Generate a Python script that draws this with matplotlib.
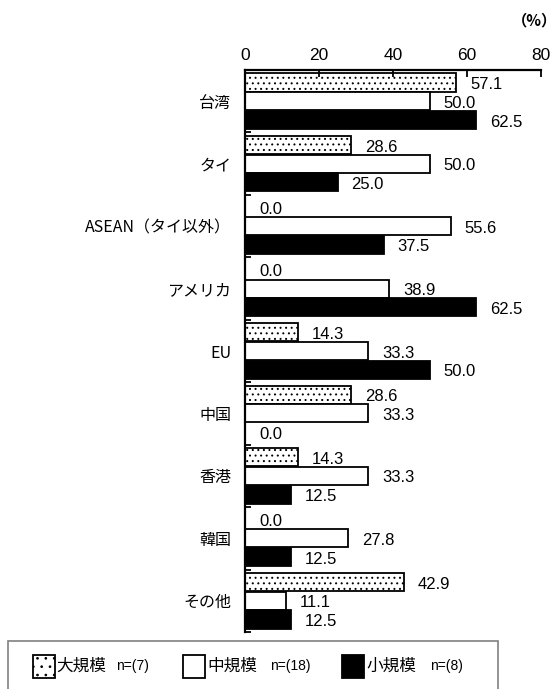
import numpy as np
import matplotlib
matplotlib.use("Agg")
import matplotlib.pyplot as plt
from matplotlib.patches import Rectangle

plt.rcParams['font.family'] = ['Noto Sans CJK JP', 'DejaVu Sans']
plt.rcParams['hatch.linewidth'] = 0.7

categories = ['台湾', 'タイ', 'ASEAN（タイ以外）', 'アメリカ', 'EU', '中国', '香港', '韓国', 'その他']
large = [57.1, 28.6, 0.0, 0.0, 14.3, 28.6, 14.3, 0.0, 42.9]
medium = [50.0, 50.0, 55.6, 38.9, 33.3, 33.3, 33.3, 27.8, 11.1]
small = [62.5, 25.0, 37.5, 62.5, 50.0, 0.0, 12.5, 12.5, 12.5]
series_names = ['大規模', '中規模', '小規模']
series_n = ['n=(7)', 'n=(18)', 'n=(8)']
xticks = [0, 20, 40, 60, 80]

num_font = ['Liberation Sans Narrow', 'Liberation Sans']

W, H = 558, 689
fig = plt.figure(figsize=(W / 100, H / 100), dpi=100)
ax = fig.add_axes([245 / W, 1 - 632 / H, (541 - 245) / W, (632 - 70) / H])

y = np.arange(len(categories))
h = 0.29
styles = [dict(facecolor='white', hatch='...', edgecolor='black'),
          dict(facecolor='white', edgecolor='black'),
          dict(facecolor='black', edgecolor='black')]
for k, vals in enumerate([large, medium, small]):
    pos = y + (k - 1) * (h + 0.01)
    ax.barh(pos, vals, height=h, linewidth=1.3, **styles[k])
    for p, v in zip(pos, vals):
        ax.annotate(f'{v:.1f}', (v, p), xytext=(10, -1.5), textcoords='offset points',
                    va='center', ha='left', fontsize=12, family=num_font)

ax.set_xlim(0, 80)
ax.set_ylim(len(categories) - 0.5, -0.5)
ax.set_xticks(xticks)
ax.xaxis.tick_top()
ax.tick_params(axis='x', direction='in', length=5, width=1.3, pad=5, labelsize=12.5)
for lab in ax.get_xticklabels():
    lab.set_family(num_font)
ax.set_yticks(y)
ax.set_yticklabels(categories, fontsize=11.5)
ax.tick_params(axis='y', which='major', length=0, pad=10)
ax.set_yticks(np.arange(len(categories) + 1) - 0.5, minor=True)
ax.tick_params(axis='y', which='minor', direction='in', length=4, width=1.3)
for s in ['right', 'bottom']:
    ax.spines[s].set_visible(False)
ax.spines['top'].set_linewidth(1.6)
ax.spines['left'].set_linewidth(1.6)

fig.text(557 / W, 1 - 20 / H, '（%）', fontsize=11, ha='right', va='center', weight='bold')

# legend box
fig.patches.append(Rectangle((8 / W, -0.01), (498 - 8) / W, 0.01 + 1 - 641 / H,
                             transform=fig.transFigure, facecolor='none',
                             edgecolor='#808080', linewidth=1.2))
patch_x = [33, 183, 342]
name_x = [56, 207, 366]
n_x = [116, 270, 430]
for k in range(3):
    fig.patches.append(Rectangle((patch_x[k] / W, 1 - 678 / H), 22 / W, 23 / H,
                                 transform=fig.transFigure, linewidth=1.3,
                                 hatch='..' if k == 0 else None,
                                 facecolor=styles[k]['facecolor'], edgecolor='black'))
    fig.text(name_x[k] / W, 1 - 666 / H, series_names[k], fontsize=12, va='center')
    fig.text(n_x[k] / W, 1 - 666 / H, series_n[k], fontsize=10, va='center',
             family=num_font)

fig.savefig('out.png', dpi=100)
